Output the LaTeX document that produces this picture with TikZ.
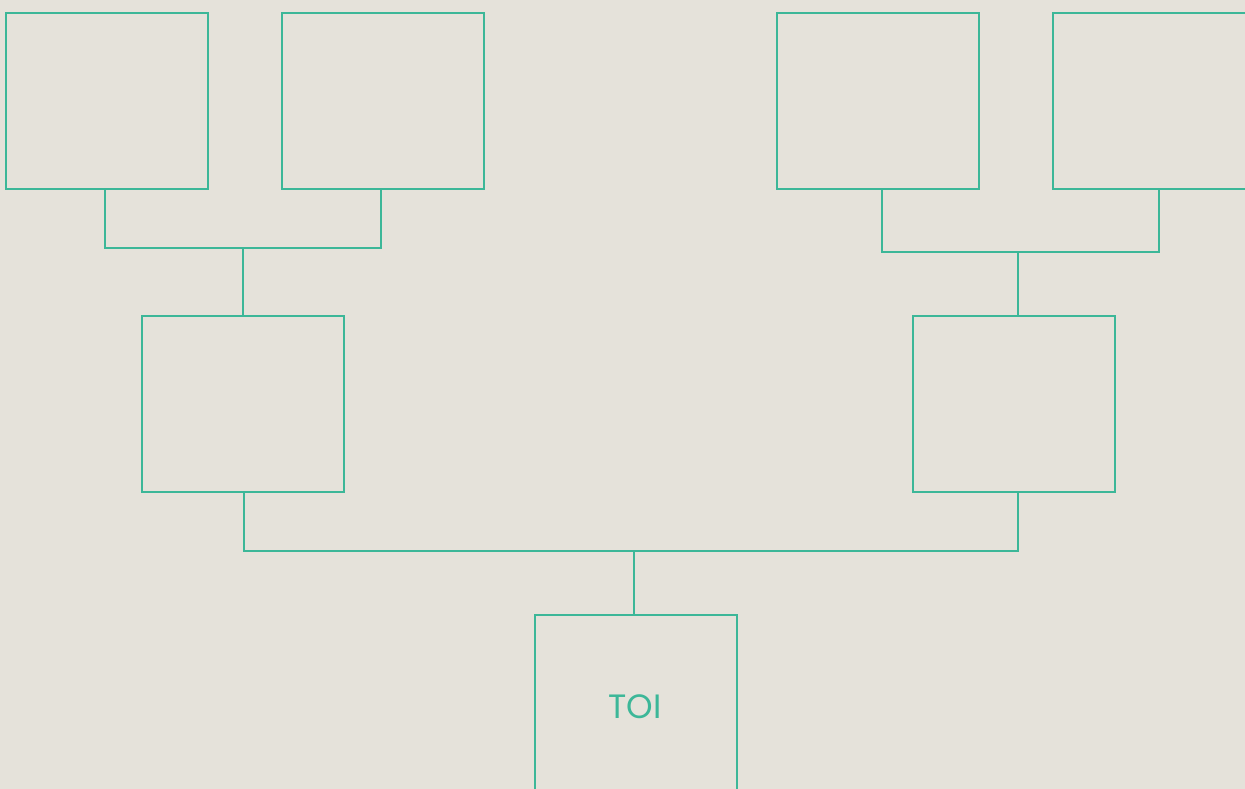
\documentclass[tikz,border=0pt]{standalone}
\usepackage{fontspec}
\setmainfont{Poppins}
\usetikzlibrary{calc}
\usepackage{xcolor}
\definecolor{pagebg}{RGB}{229,226,218}
\definecolor{toigreen}{RGB}{60,183,152}
\tikzset{
  famebox/.style = {draw=toigreen, line width=0.45pt, minimum width=2.02cm,
                    minimum height=1.76cm, inner sep=0pt},
  famelabel/.style = {text=toigreen, inner sep=0pt,
                      font=\fontsize{9.6}{11}\selectfont},
  link/.style    = {draw=toigreen, line width=0.45pt},
}
\begin{document}
\begin{tikzpicture}[x=0.01cm, y=0.01cm]
  \fill[pagebg] (0,0) rectangle (1245,789);
  \useasboundingbox (0,0) rectangle (1245,789);
  \clip (0,0) rectangle (1245,789);

  % top row
  \foreach \n/\x in {a/107, b/383, c/878, d/1154} {
    \node[famebox] (\n) at (\x, 688) {};
  }

  % middle row
  \foreach \n/\x in {e/243, f/1014} {
    \node[famebox] (\n) at (\x, 385) {};
  }

  % root
  \node[famebox] (toi) at (636, 86) {};
  \node[famelabel] (toilabel) at ($(toi.center)+(-1,-4)$) {TOI};

  % junctions
  \coordinate (ab) at (243, 541);
  \coordinate (cd) at (1018, 537);
  \coordinate (ef) at (634, 238);

  % connectors
  \draw[link] ($(a.south)+(-2,0)$) |- (ab) -| ($(b.south)+(-2,0)$);
  \draw[link] (ab) -- (e.north);
  \draw[link] ($(c.south)+(4,0)$) |- (cd) -| ($(d.south)+(5,0)$);
  \draw[link] (cd) -- (cd |- f.north);
  \draw[link] ($(e.south)+(1,0)$) |- (ef) -| ($(f.south)+(4,0)$);
  \draw[link] (ef) -- (ef |- toi.north);
\end{tikzpicture}
\end{document}
